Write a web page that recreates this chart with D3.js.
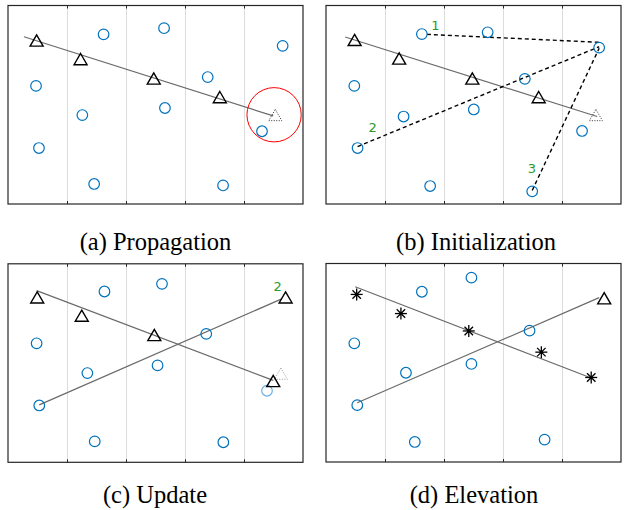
<!DOCTYPE html>
<html lang="en">
<head>
<meta charset="UTF-8">
<title>Track association steps</title>
<script src="https://cdn.jsdelivr.net/npm/d3@7"></script>
<style>
  body { margin: 0; background: #fff; }
  .caption { font-family: "Liberation Serif", "Times New Roman", serif; font-size: 24.5px; fill: #000; }
  .num { font-family: "DejaVu Sans", sans-serif; font-size: 13px; fill: #2a9a2a; }
</style>
</head>
<body>
<svg id="chart" width="624" height="510"></svg>
<script>
// data units: x 0..10 (5 columns), y 0..6.74
const captions = ["(a) Propagation", "(b) Initialization", "(c) Update", "(d) Elevation"];
const gridX = [2, 4, 6, 8];

// (a) Propagation
const circA = [[3.24,5.76],[5.29,5.97],[9.31,5.37],[0.95,4.01],[6.77,4.31],[2.52,3.02],[5.32,3.26],[8.61,2.47],[1.05,1.90],[2.92,0.68],[7.29,0.63]];
const triA = [[0.97,5.55],[2.46,4.92],[4.94,4.26],[7.18,3.63]];
const predA = [9.06, 3.02];
const trackA = [[0.54,5.68],[8.99,2.99]];
const gateA = [9.02, 3.03];
const gateRadius = 0.92;

// (b) Initialization
const circB = [[3.25,5.77],[5.48,5.83],[9.26,5.31],[0.96,4.01],[6.74,4.25],[2.63,2.97],[5.01,3.21],[8.68,2.48],[1.07,1.90],[3.53,0.61],[6.99,0.43]];
const triB = [[0.97,5.57],[2.48,4.94],[4.96,4.26],[7.21,3.63]];
const predB = [9.15, 3.02];
const trackB = [[0.65,5.67],[9.19,2.97]];
const candFrom = [[3.42,5.76],[1.07,1.95],[6.99,0.46]];
const candTo = [[9.26,5.49],[9.26,5.34],[9.26,5.29]];
const candLabels = ["1", "2", "3"];
const candLabelAt = [[3.71,6.05],[1.58,2.60],[6.98,1.20]];

// (c) Update
const circC = [[3.27,5.80],[5.22,6.06],[0.97,4.04],[6.72,4.36],[2.69,3.03],[5.07,3.29],[1.06,1.93],[2.94,0.71],[7.30,0.68]];
const fadedC = [8.78, 2.43];
const triC = [[0.99,5.60],[2.50,4.98],[4.96,4.32],[8.99,2.76]];
const newTriC = [9.41, 5.60];
const newLabelC = {text: "2", at: [9.14, 5.96]};
const ghostC = [9.25, 3.01];
const trackC1 = [[0.97,5.83],[8.99,2.78]];
const trackC2 = [[1.06,1.95],[9.28,5.55]];

// (d) Elevation
const circD = [[4.93,6.26],[3.25,5.78],[0.96,4.03],[6.90,4.46],[2.71,3.03],[4.93,3.33],[1.06,1.93],[3.01,0.68],[7.41,0.76]];
const starD = [[1.04,5.69],[2.54,5.04],[4.84,4.45],[7.30,3.73],[8.99,2.87]];
const triD = [9.43, 5.56];
const trackD1 = [[0.99,5.95],[8.99,2.85]];
const trackD2 = [[1.06,2.01],[9.26,5.58]];

const svg = d3.select("#chart");
const blue = "#0072bd";

// triangle marker centred on its box
function triPath() {
    const w = 6.5, h = 5.6;
    return `M0,${-h}L${w},${h}L${-w},${h}Z`;
}

function makePanel(left, top, w, h) {
    const x = d3.scaleLinear().domain([0, 10]).range([left, left + w]);
    const y = d3.scaleLinear().domain([0, 6.74]).range([top + h, top]);
    const g = svg.append("g");

    // grid
    g.append("g")
        .attr("transform", `translate(0,${top + h})`)
        .call(d3.axisBottom(x).tickValues(gridX).tickSize(-h).tickFormat(""))
        .call(a => a.select(".domain").remove())
        .call(a => a.selectAll("line").attr("stroke", "#dcdcdc").attr("stroke-width", 1));

    // box
    g.append("rect")
        .attr("x", left).attr("y", top).attr("width", w).attr("height", h)
        .attr("fill", "none").attr("stroke", "#262626").attr("stroke-width", 1.2);

    // inward ticks top and bottom
    g.append("g")
        .attr("transform", `translate(0,${top + h})`)
        .call(d3.axisTop(x).tickValues(gridX).tickSize(3).tickFormat(""))
        .call(a => a.select(".domain").remove())
        .call(a => a.selectAll("line").attr("stroke", "#262626"));
    g.append("g")
        .attr("transform", `translate(0,${top})`)
        .call(d3.axisBottom(x).tickValues(gridX).tickSize(3).tickFormat(""))
        .call(a => a.select(".domain").remove())
        .call(a => a.selectAll("line").attr("stroke", "#262626"));

    return {g, x, y};
}

function line(p, pts, opts) {
    p.g.append("line")
        .attr("x1", p.x(pts[0][0])).attr("y1", p.y(pts[0][1]))
        .attr("x2", p.x(pts[1][0])).attr("y2", p.y(pts[1][1]))
        .attr("stroke", opts.color || "#6a6a6a")
        .attr("stroke-width", opts.width || 1.2)
        .attr("stroke-dasharray", opts.dash || null);
}

function circles(p, data, color) {
    p.g.selectAll(null).data(data).enter().append("circle")
        .attr("cx", d => p.x(d[0])).attr("cy", d => p.y(d[1]))
        .attr("r", 5.3)
        .attr("fill", "none").attr("stroke", color || blue).attr("stroke-width", 1.2);
}

function triangles(p, data, opts) {
    opts = opts || {};
    p.g.selectAll(null).data(data).enter().append("path")
        .attr("d", triPath())
        .attr("transform", d => `translate(${p.x(d[0])},${p.y(d[1])})`)
        .attr("fill", "none")
        .attr("stroke", opts.color || "#000")
        .attr("stroke-width", opts.width || 1.4)
        .attr("stroke-dasharray", opts.dash || null);
}

function stars(p, data) {
    const s = p.g.selectAll(null).data(data).enter().append("g")
        .attr("transform", d => `translate(${p.x(d[0])},${p.y(d[1])})`);
    [0, 45, 90, 135].forEach(a => {
        s.append("line")
            .attr("x1", -6).attr("x2", 6).attr("y1", 0).attr("y2", 0)
            .attr("transform", `rotate(${a})`)
            .attr("stroke", "#000").attr("stroke-width", 1.3);
    });
    s.append("circle").attr("r", 1.8).attr("fill", "#000");
}

function label(p, text, at) {
    p.g.append("text").attr("class", "num")
        .attr("x", p.x(at[0])).attr("y", p.y(at[1]))
        .attr("text-anchor", "middle").attr("dominant-baseline", "central")
        .text(text);
}

const W = 295, H = 198.5;

// (a)
const pa = makePanel(8, 5.5, W, H);
line(pa, trackA, {});
circles(pa, circA);
triangles(pa, triA);
triangles(pa, [predA], {dash: "1,1.5", width: 1, color: "#333"});
pa.g.append("circle")
    .attr("cx", pa.x(gateA[0])).attr("cy", pa.y(gateA[1]))
    .attr("r", pa.x(gateRadius) - pa.x(0))
    .attr("fill", "none").attr("stroke", "#ff0000").attr("stroke-width", 1);

// (b)
const pb = makePanel(326, 5.5, W, H);
line(pb, trackB, {});
candFrom.forEach((f, i) => line(pb, [f, candTo[i]], {color: "#000", width: 1.4, dash: "4,3"}));
circles(pb, circB);
triangles(pb, triB);
triangles(pb, [predB], {dash: "1,1.5", width: 1, color: "#333"});
candLabels.forEach((t, i) => label(pb, t, candLabelAt[i]));

// (c)
const pc = makePanel(8, 263.8, W, H);
line(pc, trackC1, {});
line(pc, trackC2, {});
circles(pc, circC);
circles(pc, [fadedC], "#6fb0e0");
triangles(pc, [ghostC], {dash: "1,1.5", width: 1, color: "#999"});
triangles(pc, triC);
triangles(pc, [newTriC]);
label(pc, newLabelC.text, newLabelC.at);

// (d)
const pd = makePanel(326, 263.5, W, H);
line(pd, trackD1, {});
line(pd, trackD2, {});
circles(pd, circD);
stars(pd, starD);
triangles(pd, [triD]);

// captions
const capPos = [[155.5, 250], [476, 250], [155, 503], [474, 503]];
svg.selectAll("text.caption").data(captions).enter().append("text")
    .attr("class", "caption")
    .attr("x", (d, i) => capPos[i][0]).attr("y", (d, i) => capPos[i][1])
    .attr("text-anchor", "middle")
    .text(d => d);
</script>
</body>
</html>
